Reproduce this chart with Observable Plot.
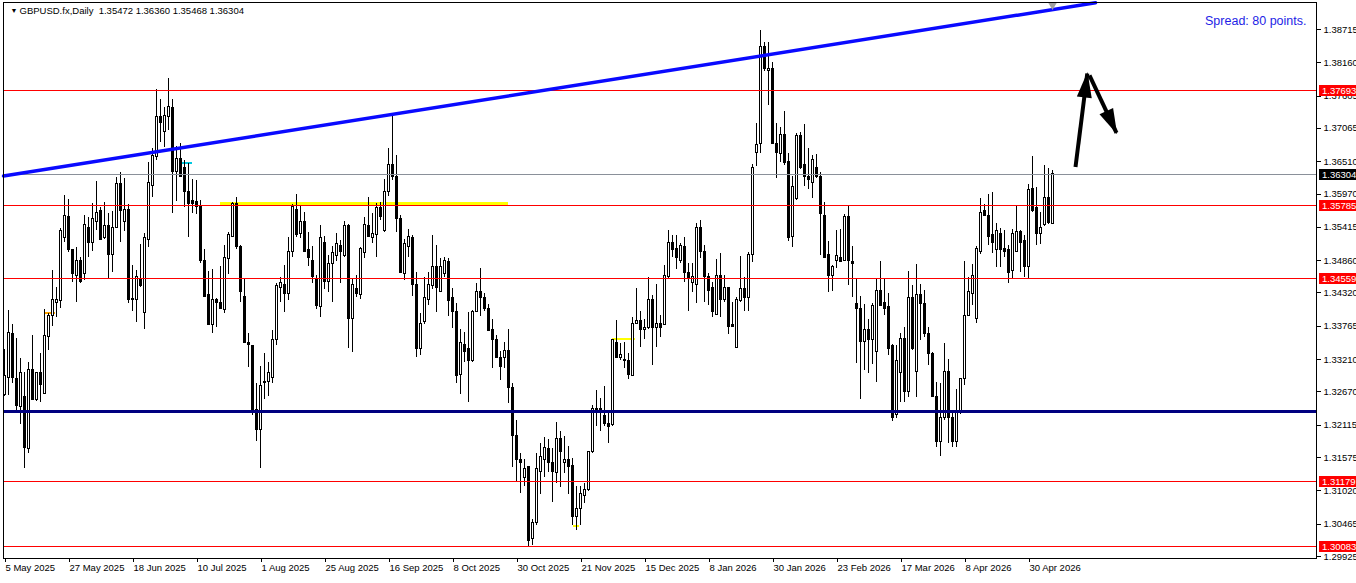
<!DOCTYPE html>
<html><head><meta charset="utf-8">
<script src="https://cdn.jsdelivr.net/npm/d3@7"></script>
<script src="https://cdn.jsdelivr.net/npm/@observablehq/plot@0.6"></script>
<style>html,body{margin:0;padding:0;background:#fff;overflow:hidden}svg{display:block}</style>
</head><body><div id="chart"></div>
<script>
// ---- Daily OHLC, GBPUSD.fx (one entry per bar, oldest first) ----
const open = [1.3261,1.3291,1.3364,1.3288,1.3241,1.3258,1.3171,1.3303,1.3253,1.3298,1.3264,1.3359,1.3393,1.3416,1.3418,1.3523,1.3558,1.3503,1.3461,1.3486,
1.3463,1.3541,1.3515,1.3550,1.3568,1.3523,1.3543,1.3495,1.3540,1.3613,1.3550,1.3571,1.3420,1.3421,1.3456,1.3398,1.3521,1.3610,1.3658,1.3726,
1.3700,1.3725,1.3741,1.3633,1.3655,1.3641,1.3600,1.3585,1.3584,1.3575,1.3486,1.3428,1.3379,1.3420,1.3415,1.3403,1.3488,1.3526,1.3580,1.3508,
1.3426,1.3349,1.3344,1.3236,1.3203,1.3281,1.3283,1.3291,1.3354,1.3441,1.3445,1.3431,1.3500,1.3571,1.3530,1.3550,1.3503,1.3485,1.3453,1.3408,
1.3515,1.3451,1.3480,1.3493,1.3511,1.3493,1.3543,1.3388,1.3438,1.3428,1.3498,1.3543,1.3523,1.3528,1.3573,1.3535,1.3600,1.3645,1.3626,1.3555,
1.3463,1.3508,1.3523,1.3446,1.3339,1.3383,1.3421,1.3443,1.3476,1.3434,1.3463,1.3483,1.3423,1.3400,1.3296,1.3346,1.3338,1.3319,1.3400,1.3433,
1.3424,1.3405,1.3371,1.3354,1.3323,1.3323,1.3336,1.3274,1.3194,1.3153,1.3124,1.3141,1.3021,1.3048,1.3133,1.3153,1.3171,1.3148,1.3131,1.3189,
1.3148,1.3154,1.3144,1.3058,1.3071,1.3094,1.3103,1.3166,1.3238,1.3238,1.3226,1.3213,1.3211,1.3349,1.3323,1.3321,1.3319,1.3294,1.3381,1.3386,
1.3371,1.3374,1.3421,1.3374,1.3381,1.3379,1.3458,1.3515,1.3506,1.3485,1.3508,1.3465,1.3448,1.3446,1.3541,1.3500,1.3458,1.3440,1.3395,1.3460,
1.3420,1.3440,1.3378,1.3341,1.3418,1.3438,1.3424,1.3495,1.3665,1.3680,1.3843,1.3803,1.3805,1.3681,1.3663,1.3695,1.3650,1.3526,1.3588,1.3693,
1.3645,1.3625,1.3616,1.3640,1.3626,1.3561,1.3495,1.3461,1.3486,1.3491,1.3486,1.3558,1.3483,1.3413,1.3406,1.3351,1.3371,1.3354,1.3334,1.3436,
1.3415,1.3408,1.3343,1.3229,1.3299,1.3356,1.3266,1.3423,1.3301,1.3428,1.3413,1.3363,1.3331,1.3258,1.3183,1.3223,1.3301,1.3223,1.3183,1.3231,
1.3288,1.3393,1.3431,1.3388,1.3501,1.3568,1.3561,1.3528,1.3503,1.3531,1.3505,1.3503,1.3468,1.3500,1.3533,1.3518,1.3475,1.3605,1.3573,1.3530,
1.3545,1.3590,1.35472];
const high = [1.3338,1.3403,1.3379,1.3356,1.3323,1.3299,1.3316,1.3361,1.3300,1.3331,1.3405,1.3398,1.3470,1.3441,1.3540,1.3595,1.3588,1.3503,1.3508,1.3491,
1.3561,1.3558,1.3581,1.3618,1.3575,1.3583,1.3565,1.3568,1.3625,1.3633,1.3623,1.3580,1.3478,1.3470,1.3513,1.3531,1.3650,1.3673,1.3771,1.3755,
1.3741,1.3790,1.3755,1.3676,1.3681,1.3653,1.3648,1.3621,1.3620,1.3586,1.3505,1.3468,1.3471,1.3423,1.3476,1.3511,1.3533,1.3583,1.3591,1.3511,
1.3456,1.3364,1.3345,1.3281,1.3309,1.3331,1.3316,1.3369,1.3448,1.3458,1.3478,1.3525,1.3580,1.3596,1.3578,1.3566,1.3533,1.3510,1.3461,1.3545,
1.3526,1.3495,1.3510,1.3531,1.3520,1.3551,1.3546,1.3456,1.3461,1.3508,1.3558,1.3591,1.3565,1.3581,1.3583,1.3621,1.3673,1.3728,1.3661,1.3561,
1.3521,1.3538,1.3528,1.3466,1.3398,1.3458,1.3466,1.3528,1.3511,1.3490,1.3491,1.3490,1.3440,1.3415,1.3371,1.3366,1.3400,1.3402,1.3448,1.3473,
1.3431,1.3413,1.3388,1.3361,1.3334,1.3349,1.3371,1.3281,1.3219,1.3164,1.3154,1.3142,1.3054,1.3164,1.3181,1.3191,1.3188,1.3172,1.3216,1.3201,
1.3193,1.3176,1.3156,1.3109,1.3109,1.3114,1.3167,1.3244,1.3269,1.3256,1.3276,1.3231,1.3354,1.3386,1.3348,1.3349,1.3331,1.3391,1.3440,1.3401,
1.3388,1.3458,1.3428,1.3446,1.3395,1.3478,1.3536,1.3528,1.3528,1.3515,1.3525,1.3481,1.3481,1.3548,1.3553,1.3511,1.3465,1.3450,1.3488,1.3498,
1.3461,1.3441,1.3416,1.3424,1.3493,1.3458,1.3500,1.3646,1.3715,1.3870,1.3850,1.3850,1.3816,1.3715,1.3708,1.3735,1.3665,1.3626,1.3698,1.3700,
1.3713,1.3673,1.3661,1.3663,1.3633,1.3583,1.3518,1.3477,1.3536,1.3538,1.3563,1.3576,1.3510,1.3456,1.3426,1.3413,1.3388,1.3415,1.3456,1.3485,
1.3456,1.3431,1.3346,1.3344,1.3364,1.3374,1.3468,1.3445,1.3480,1.3446,1.3436,1.3374,1.3332,1.3283,1.3281,1.3348,1.3321,1.3233,1.3271,1.3290,
1.3485,1.3458,1.3480,1.3510,1.3590,1.3580,1.3596,1.3600,1.3548,1.3540,1.3536,1.3511,1.3538,1.3576,1.3536,1.3528,1.3613,1.3660,1.3608,1.3566,
1.3645,1.3640,1.36360];
const low = [1.3259,1.3261,1.3281,1.3236,1.3213,1.3139,1.3164,1.3253,1.3251,1.3249,1.3263,1.3336,1.3376,1.3391,1.3406,1.3516,1.3500,1.3450,1.3416,1.3448,
1.3453,1.3491,1.3501,1.3536,1.3520,1.3522,1.3456,1.3466,1.3539,1.3516,1.3535,1.3415,1.3401,1.3383,1.3441,1.3371,1.3508,1.3591,1.3653,1.3683,
1.3675,1.3703,1.3565,1.3585,1.3624,1.3575,1.3525,1.3565,1.3563,1.3481,1.3424,1.3378,1.3364,1.3374,1.3404,1.3398,1.3463,1.3525,1.3505,1.3416,
1.3348,1.3308,1.3228,1.3184,1.3139,1.3254,1.3259,1.3281,1.3344,1.3416,1.3400,1.3420,1.3491,1.3525,1.3523,1.3500,1.3476,1.3448,1.3405,1.3391,
1.3438,1.3433,1.3416,1.3484,1.3448,1.3491,1.3339,1.3333,1.3424,1.3421,1.3490,1.3524,1.3515,1.3491,1.3553,1.3533,1.3593,1.3620,1.3533,1.3465,
1.3453,1.3491,1.3426,1.3324,1.3328,1.3379,1.3411,1.3438,1.3400,1.3433,1.3458,1.3393,1.3373,1.3281,1.3263,1.3316,1.3249,1.3316,1.3399,1.3393,
1.3401,1.3368,1.3306,1.3323,1.3286,1.3306,1.3248,1.3141,1.3116,1.3098,1.3109,1.3009,1.3011,1.3044,1.3096,1.3124,1.3133,1.3083,1.3114,1.3108,
1.3131,1.3096,1.3044,1.3036,1.3044,1.3081,1.3101,1.3165,1.3209,1.3201,1.3209,1.3181,1.3209,1.3323,1.3319,1.3306,1.3288,1.3293,1.3379,1.3341,
1.3354,1.3371,1.3311,1.3341,1.3358,1.3378,1.3456,1.3491,1.3471,1.3481,1.3450,1.3401,1.3433,1.3415,1.3490,1.3416,1.3411,1.3391,1.3394,1.3391,
1.3416,1.3363,1.3374,1.3339,1.3416,1.3401,1.3401,1.3483,1.3643,1.3665,1.3801,1.3745,1.3680,1.3623,1.3650,1.3645,1.3518,1.3508,1.3586,1.3638,
1.3610,1.3605,1.3590,1.3623,1.3495,1.3490,1.3433,1.3434,1.3473,1.3482,1.3485,1.3445,1.3424,1.3314,1.3254,1.3303,1.3298,1.3313,1.3283,1.3410,
1.3395,1.3328,1.3218,1.3223,1.3249,1.3249,1.3258,1.3336,1.3258,1.3353,1.3358,1.3311,1.3257,1.3174,1.3159,1.3219,1.3181,1.3174,1.3174,1.3230,
1.3278,1.3392,1.3411,1.3381,1.3496,1.3559,1.3511,1.3498,1.3475,1.3475,1.3491,1.3448,1.3456,1.3499,1.3466,1.3458,1.3455,1.3566,1.3511,1.3513,
1.3543,1.3546,1.35468];
const close = [1.3294,1.3366,1.3291,1.3243,1.3299,1.3174,1.3304,1.3254,1.3299,1.3278,1.3361,1.3393,1.3420,1.3420,1.3535,1.3560,1.3503,1.3463,1.3486,1.3450,
1.3545,1.3515,1.3555,1.3566,1.3521,1.3543,1.3496,1.3541,1.3613,1.3568,1.3571,1.3421,1.3422,1.3458,1.3443,1.3523,1.3615,1.3661,1.3726,1.3716,
1.3728,1.3743,1.3633,1.3655,1.3625,1.3600,1.3581,1.3581,1.3575,1.3486,1.3426,1.3379,1.3420,1.3415,1.3405,1.3490,1.3528,1.3580,1.3508,1.3433,
1.3349,1.3346,1.3233,1.3203,1.3276,1.3283,1.3298,1.3354,1.3443,1.3448,1.3431,1.3500,1.3575,1.3528,1.3551,1.3501,1.3491,1.3458,1.3410,1.3523,
1.3451,1.3481,1.3498,1.3513,1.3500,1.3543,1.3388,1.3445,1.3431,1.3505,1.3545,1.3525,1.3530,1.3573,1.3558,1.3600,1.3646,1.3625,1.3555,1.3466,
1.3513,1.3525,1.3446,1.3339,1.3381,1.3423,1.3445,1.3476,1.3440,1.3476,1.3486,1.3418,1.3401,1.3294,1.3349,1.3333,1.3319,1.3401,1.3433,1.3424,
1.3405,1.3369,1.3354,1.3324,1.3308,1.3336,1.3274,1.3193,1.3153,1.3149,1.3139,1.3019,1.3049,1.3138,1.3158,1.3173,1.3149,1.3133,1.3189,1.3166,
1.3154,1.3141,1.3058,1.3071,1.3096,1.3104,1.3166,1.3239,1.3233,1.3231,1.3213,1.3209,1.3353,1.3324,1.3328,1.3319,1.3296,1.3381,1.3386,1.3371,
1.3374,1.3421,1.3374,1.3381,1.3374,1.3461,1.3516,1.3503,1.3491,1.3511,1.3466,1.3455,1.3458,1.3541,1.3500,1.3458,1.3436,1.3401,1.3460,1.3420,
1.3440,1.3376,1.3376,1.3420,1.3438,1.3424,1.3496,1.3640,1.3678,1.3842,1.3805,1.3806,1.3681,1.3665,1.3696,1.3648,1.3523,1.3608,1.3693,1.3641,
1.3626,1.3620,1.3653,1.3625,1.3563,1.3491,1.3461,1.3476,1.3493,1.3483,1.3558,1.3486,1.3480,1.3405,1.3351,1.3371,1.3353,1.3411,1.3436,1.3411,
1.3406,1.3339,1.3223,1.3319,1.3356,1.3266,1.3423,1.3339,1.3428,1.3413,1.3363,1.3331,1.3258,1.3184,1.3223,1.3301,1.3223,1.3183,1.3233,1.3289,
1.3393,1.3433,1.3461,1.3506,1.3566,1.3560,1.3525,1.3515,1.3535,1.3503,1.3501,1.3466,1.3531,1.3533,1.3516,1.3475,1.3603,1.3568,1.3531,1.3540,
1.3591,1.3548,1.36304];

// ---- Axes ----
const priceTicks = [1.38715,1.38160,1.37605,1.37065,1.36510,1.35970,1.35415,1.34860,1.34320,1.33765,1.33210,1.32670,1.32115,1.31575,1.31020,1.30465,1.29925];
const dateTickBars = [0,16,32,48,64,80,96,112,128,144,160,176,192,208,224,240,256];
const dateTickLabels = ["5 May 2025","27 May 2025","18 Jun 2025","10 Jul 2025","1 Aug 2025","25 Aug 2025","16 Sep 2025","8 Oct 2025","30 Oct 2025","21 Nov 2025","15 Dec 2025","8 Jan 2026","30 Jan 2026","23 Feb 2026","17 Mar 2026","8 Apr 2026","30 Apr 2026"];

// ---- Drawn objects ----
const redLevels = [1.37693, 1.35785, 1.34559, 1.31179, 1.30083];
const bidLevel = 1.36304;
const supportLevel = 1.3235;
const trendBars = [-0.25, 272.75];
const trendPrices = [1.3627, 1.3916];
const zoneBars = [54, 126];
const zonePrice = 1.3581;
const smallMarks = [
  {b1: 10.25, b2: 12.75, p: 1.3398, color: "#ffa500"},
  {b1: 44.5, b2: 47, p: 1.3648, color: "#00c8e0"},
  {b1: 142.25, b2: 143.75, p: 1.3044, color: "#ffff00"},
  {b1: 152, b2: 157.75, p: 1.3356, color: "#ffff00"}
];
const arrowStartBars = [267.75, 271.25];
const arrowStartPrices = [1.3642, 1.3795];
const arrowEndBars = [270.7, 278];
const arrowEndPrices = [1.3798, 1.3699];
const alertBar = 262;
const alertPrice = 1.3913;
const header = "GBPUSD.fx,Daily  1.35472 1.36360 1.35468 1.36304";
const spreadText = "Spread: 80 points.";

const candles = open.map((o, i) => ({i, o, h: high[i], l: low[i], c: close[i]}));
const upBars = candles.filter(d => d.c >= d.o);
const downBars = candles.filter(d => d.c < d.o);
const arrows = arrowStartBars.map((b, k) => ({x1: b, y1: arrowStartPrices[k], x2: arrowEndBars[k], y2: arrowEndPrices[k]}));
const trend = trendBars.map((b, k) => ({b, p: trendPrices[k]}));
const labelMap = new Map(dateTickBars.map((b, k) => [b, dateTickLabels[k]]));

const FONT = "'Liberation Sans', Arial, sans-serif";
const crisp = {shapeRendering: "crispEdges"};

const plot = Plot.plot({
  width: 1356, height: 583,
  marginTop: 2, marginBottom: 25, marginLeft: 3, marginRight: 40,
  x: {type: "linear", domain: [-0.25, 328]},
  y: {type: "linear", domain: [1.29891, 1.39165]},
  style: {fontFamily: FONT, fontSize: "9.5px", background: "white", color: "black", overflow: "visible"},
  marks: [
    Plot.ruleY(smallMarks, {y: "p", x1: "b1", x2: "b2", stroke: "color", strokeWidth: 2, ...crisp}),
    Plot.ruleY([zonePrice], {x1: zoneBars[0], x2: zoneBars[1], stroke: "#ffff00", strokeWidth: 4, ...crisp}),
    Plot.ruleX(candles, {x: "i", y1: "l", y2: "h", stroke: "black", strokeWidth: 1, ...crisp}),
    Plot.rect(upBars, {x1: d => d.i - 0.25, x2: d => d.i + 0.25, y1: "o", y2: "c", fill: "white", stroke: "black", strokeWidth: 1, ...crisp}),
    Plot.rect(downBars, {x1: d => d.i - 0.25, x2: d => d.i + 0.25, y1: "o", y2: "c", fill: "black", stroke: "black", strokeWidth: 1, ...crisp}),
    Plot.ruleY(redLevels, {stroke: "#ff0000", strokeWidth: 1, ...crisp}),
    Plot.ruleY([bidLevel], {stroke: "#8a9099", strokeWidth: 1, ...crisp}),
    Plot.ruleY([supportLevel], {stroke: "#000080", strokeWidth: 3, ...crisp}),
    Plot.line(trend, {x: "b", y: "p", stroke: "#0a0aff", strokeWidth: 3.5}),
    Plot.link(arrows, {x1: "x1", y1: "y1", x2: "x2", y2: "y2", stroke: "black", strokeWidth: 4}),
    Plot.dot([{b: alertBar, p: alertPrice}], {x: "b", y: "p", symbol: "triangle", r: 3.5, fill: "#a0a0a0", rotate: 180}),
    Plot.frame({stroke: "black", ...crisp}),
    Plot.axisY({anchor: "right", ticks: priceTicks, tickFormat: d => d.toFixed(5), tickSize: 4, tickPadding: 3, fontSize: 9.5, ...crisp}),
    Plot.axisX({anchor: "bottom", ticks: dateTickBars, tickFormat: d => labelMap.get(d), tickSize: 4, tickPadding: 2, textAnchor: "start", dx: 1, fontSize: 9.5, ...crisp}),
    Plot.text([header], {frameAnchor: "top-left", dx: 16, dy: 8, textAnchor: "start", lineAnchor: "middle", fontSize: 9.5, fill: "black"}),
    Plot.text(["▼"], {frameAnchor: "top-left", dx: 7, dy: 8, lineAnchor: "middle", fontSize: 7, fill: "black"}),
    Plot.text([spreadText], {frameAnchor: "top-right", dx: -10, dy: 18, textAnchor: "end", lineAnchor: "middle", fontSize: 12.5, fill: "#1e1ee6"})
  ]
});

// scales of the rendered plot (Plot marks are drawn with a 0.5px offset)
const xs = plot.scale("x"), ys = plot.scale("y");
const xOf = d3.scaleLinear().domain(xs.domain).range(xs.range);
const yOf = d3.scaleLinear().domain(ys.domain).range(ys.range);
const svg = d3.select(plot);

// filled arrow heads at the end of each arrow
const heads = svg.append("g").attr("fill", "black");
for (const a of arrows) {
  const x1 = xOf(a.x1) + 0.5, y1 = yOf(a.y1) + 0.5, x2 = xOf(a.x2) + 0.5, y2 = yOf(a.y2) + 0.5;
  const len = Math.hypot(x2 - x1, y2 - y1), ux = (x2 - x1) / len, uy = (y2 - y1) / len;
  const L = 24, W = 7.5;
  const bx = x2 - ux * L, by = y2 - uy * L;
  heads.append("path").attr("d", `M${x2 + ux * 1.5},${y2 + uy * 1.5}L${bx - uy * W},${by + ux * W}L${bx + uy * W},${by - ux * W}Z`);
}

// price-tag boxes on the right scale
const tags = redLevels.map(v => ({v, bg: "#ff0000"})).concat([{v: bidLevel, bg: "#000000"}]);
const g = svg.append("g").attr("font-family", FONT).attr("font-size", 9.5).attr("text-anchor", "start");
for (const t of tags) {
  const yy = Math.round(yOf(t.v));
  g.append("rect").attr("x", 1319).attr("y", yy - 5).attr("width", 37).attr("height", 11).attr("fill", t.bg);
  g.append("text").attr("x", 1322).attr("y", yy + 0.5).attr("dy", "0.35em").attr("fill", "white").text(t.v.toFixed(5));
}
document.getElementById("chart").appendChild(plot);
</script></body></html>
